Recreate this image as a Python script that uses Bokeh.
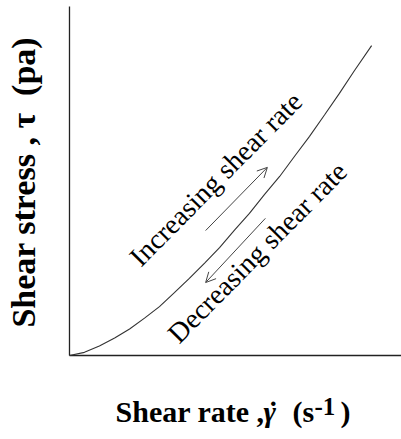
from bokeh.plotting import figure
from bokeh.models import Range1d, Label, Arrow, OpenHead
from bokeh.embed import file_html
from bokeh.resources import INLINE

# ---- data (arbitrary units) ----
shear_rate = [0.0, 0.45, 0.90, 1.36, 1.81, 2.26, 2.71, 3.16, 3.61, 4.07, 4.52,
              4.97, 5.42, 5.87, 6.33, 6.78, 7.23, 7.68, 8.13, 8.58, 9.10]
shear_stress = [0.0, 0.09, 0.27, 0.50, 0.76, 1.07, 1.40, 1.80, 2.21, 2.65, 3.09,
                3.59, 4.07, 4.61, 5.13, 5.71, 6.28, 6.89, 7.51, 8.16, 8.88]

# arrows: start/end (x, y)
inc_arrow = [(4.10, 3.58), (5.96, 5.39)]
dec_arrow = [(5.90, 3.93), (4.10, 2.09)]

inc_text = "Increasing shear rate"
dec_text = "Decreasing shear rate"
y_title = "Shear stress , \u03c4 \u00a0(pa)"

# axis extents (data units)
X_AXIS_END = 10.0
Y_AXIS_END = 10.0

SERIF = "Liberation Serif"

# whole canvas is the frame; axes drawn as lines so that titles are not clipped
p = figure(width=401, height=439,
           x_range=Range1d(-2.078, 10.0), y_range=Range1d(-2.407, 10.172),
           output_backend="svg", toolbar_location=None,
           x_axis_location=None, y_axis_location=None,
           min_border=0)
p.grid.visible = False
p.outline_line_color = None
p.background_fill_color = "white"
p.border_fill_color = "white"

# axis lines
p.line([0, X_AXIS_END], [0, 0], line_color="#222222", line_width=1.3)
p.line([0, 0], [0, Y_AXIS_END], line_color="#222222", line_width=1.3)

# curve
p.line(shear_rate, shear_stress, line_color="#333333", line_width=1.1)

for (xs, ys), (xe, ye) in (inc_arrow, dec_arrow):
    p.add_layout(Arrow(end=OpenHead(size=10, line_color="#444444", line_width=1),
                       x_start=xs, y_start=ys, x_end=xe, y_end=ye,
                       line_color="#444444", line_width=1))

p.add_layout(Label(x=1.95, y=2.70, text=inc_text, angle=45.3, angle_units="deg",
                   text_font=SERIF, text_font_size="28px", text_color="black",
                   text_align="left", text_baseline="alphabetic"))
p.add_layout(Label(x=3.10, y=0.50, text=dec_text, angle=45.3, angle_units="deg",
                   text_font=SERIF, text_font_size="28px", text_color="black",
                   text_align="left", text_baseline="alphabetic"))

# x-axis title pieces
xb = -1.60
def xlab(x, t, size="30px", style="bold", y=xb, align="left"):
    p.add_layout(Label(x=x, y=y, text=t, text_font=SERIF, text_font_size=size,
                       text_font_style=style, text_color="black",
                       text_align=align, text_baseline="alphabetic"))
xlab(1.386, "Shear rate ,")
xlab(5.84, "\u03b3", style="bold italic")
xlab(6.14, "\u02d9", align="center")
xlab(6.72, "(s")
xlab(7.38, "-1", size="25px", y=-1.46)
xlab(8.16, ")")

# y-axis title (rotated)
p.add_layout(Label(x=-1.38, y=0.80, text=y_title, angle=90, angle_units="deg",
                   text_font=SERIF, text_font_size="34px",
                   text_font_style="bold", text_color="black",
                   text_align="left", text_baseline="alphabetic"))

open("out.html", "w").write(file_html(p, INLINE))
